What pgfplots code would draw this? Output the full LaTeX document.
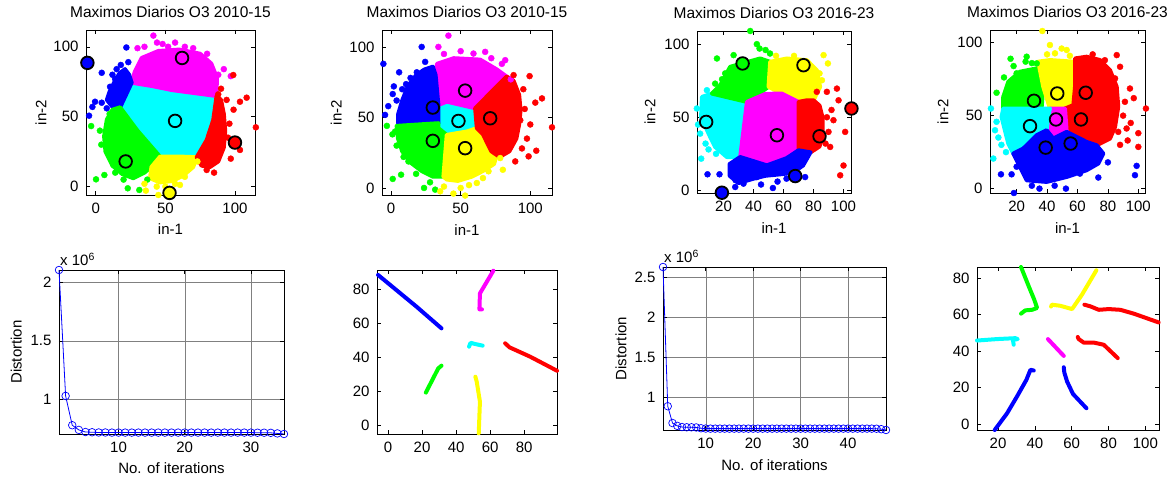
\documentclass[border=0pt]{standalone}
\usepackage{fontspec}
\setmainfont{Liberation Sans}
\usepackage{pgfplots}
\pgfplotsset{compat=1.18}
\definecolor{cC}{rgb}{0,1,1}
\definecolor{cM}{rgb}{1,0,1}
\definecolor{cY}{rgb}{1,1,0}
\definecolor{cG}{rgb}{0,1,0}
\definecolor{cB}{rgb}{0,0,1}
\definecolor{cR}{rgb}{1,0,0}
\newcommand{\labs}[4]{%
  \node[font=\fontsize{15}{18}\selectfont, anchor=center] at (axis description cs:0.5,#2) {#3};
  \node[font=\fontsize{15}{18}\selectfont, anchor=center, rotate=90] at (axis description cs:#1,0.5) {#4};}
\pgfplotsset{
 mbase/.style={scale only axis, anchor=north west,
   axis line style={line width=0.6pt},
   every tick/.style={black, line width=0.5pt},
   tick align=inside, major tick length=4pt,
   tick label style={font=\fontsize{15}{18}\selectfont},
   xticklabel style={yshift=-4.5pt},
   yticklabel style={xshift=-4pt},
   title style={font=\fontsize{15.5}{18}\selectfont, yshift=3pt},
   /pgf/number format/assume math mode=true,
   clip=false},
 reg/.style={draw=#1, fill=#1, line width=4pt, line join=round},
 dts/.style={only marks, mark=*, mark size=3pt, mark options={draw=#1, fill=#1}},
 cen/.style={only marks, mark=*, mark size=6.3pt, mark options={draw=black, fill=#1, line width=1.8pt}},
 trj/.style={draw=#1, line width=4pt, line cap=round, line join=round},
 dist/.style={grid=major, major grid style={black!50, line width=0.4pt}},
 dline/.style={cB, line width=0.8pt, mark=o, mark size=3.8pt, mark options={line width=0.7pt}},
}
\begin{document}
\begin{tikzpicture}
\path[use as bounding box] (0pt,0pt) rectangle (1172pt,-478pt);

% ---------------- P1 ----------------
\begin{axis}[mbase, at={(86pt,-30pt)}, width=169pt, height=165pt,
  xmin=-7, xmax=114.4, ymin=-6, ymax=112, xtick={0,50,100}, ytick={0,50,100},
  title={Maximos Diarios O3 2010-15}]
\addplot[reg=cC] coordinates {(25.8,74.3)(40,72)(55,69)(70,67)(86.8,64.8)(84.4,47.6)(79.7,33.3)(72.5,21)(60,21.5)(46.2,21.4)(30,40)(17.5,56.7)} -- cycle;
\addplot[reg=cM] coordinates {(25.8,74.3)(28,82)(33,92)(45,97)(60,98)(75,95)(83,88)(87,78)(86.8,64.8)(70,67)(55,69)(40,72)} -- cycle;
\addplot[dts=cM] coordinates {(41.4,108)(44,103)(35,100)(30,99)(52,100)(64,100)(70,99)(80,95)(77,86)(88,80)(92,84)(97,79)(57,103)(48,102)};
\addplot[reg=cB] coordinates {(25.8,74.3)(17.5,56.7)(12,57)(8,62)(10,68)(13,74)(17,81)(21,84)(24,80)} -- cycle;
\addplot[dts=cB] coordinates {(22,99.5)(23.4,89)(4.3,81.4)(-0.5,60.7)(-2.4,57)(-4.8,50.7)(4.3,60)(10.3,71.4)(7.9,56)(13.9,77)(12,80)(18,87)(15,84)};
\addplot[reg=cG] coordinates {(17.5,56.7)(30,40)(46.2,21.4)(42,16)(35,10)(27,6)(19,9)(12,15)(7,25)(6,36)(8,48)(12,55)} -- cycle;
\addplot[dts=cG] coordinates {(-3.3,43.3)(0.2,5.2)(6.2,8.3)(23,-1.2)(31.3,-2.4)(12.7,15.5)(4,30)(3,40)(10,52)(14,10)(20,5)(37,5)};
\addplot[reg=cY] coordinates {(46.2,21.4)(60,21.5)(72.5,21)(70,14)(63,8)(55,4)(46,3)(39,6)(40,14)} -- cycle;
\addplot[dts=cY] coordinates {(36,-2.9)(45,-6)(43.8,0)(60.5,1.2)(64,7)(68.9,16.7)(35,2)(50,0)(57,2)(73,18)};
\addplot[reg=cR] coordinates {(86.8,64.8)(84.4,47.6)(79.7,33.3)(72.5,21)(76,15)(82,14)(88,18)(92,28)(93,40)(92,52)(90,62)} -- cycle;
\addplot[dts=cR] coordinates {(115,42.4)(108.4,63.6)(103.6,60.7)(98.8,79.8)(103.6,26.2)(79.7,11.9)(94,62)(89,25)(96,45)(99,55)(95,35)(85,10)(90,70)(97,20)(101,30)(88,66)};
\addplot[cen=cB] coordinates {(-6,88.5)};
\addplot[cen=cM] coordinates {(62,92)};
\addplot[cen=cC] coordinates {(57,47)};
\addplot[cen=cR] coordinates {(100,31.5)};
\addplot[cen=cG] coordinates {(21.5,18)};
\addplot[cen=cY] coordinates {(53,-4.5)};
\labs{-0.266}{-0.206}{in-1}{in-2}
\end{axis}

% ---------------- P2 ----------------
\begin{axis}[mbase, at={(382pt,-30pt)}, width=170pt, height=165pt,
  xmin=-6.5, xmax=115.6, ymin=-5, ymax=112, xtick={0,50,100}, ytick={0,50,100},
  title={Maximos Diarios O3 2010-15}]
\addplot[reg=cC] coordinates {(34,58.8)(40,61.2)(60.4,56.5)(61.6,42.4)(54.4,40)(40,37.6)(34,42.4)} -- cycle;
\addplot[reg=cM] coordinates {(34,58.8)(40,61.2)(60.4,56.5)(83,79)(76,84)(64,91)(45,92)(33,88)(32,80)} -- cycle;
\addplot[dts=cM] coordinates {(41.2,108)(34,100)(59.2,95.3)(67.6,96.5)(79.6,88)(82,90.6)(50,97)(38,95)(72,92)(86,77)};
\addplot[reg=cB] coordinates {(34,58.8)(32,80)(30,86)(24,84)(18,80)(12,72)(8,62)(5,52)(5,46)(34,45.9)} -- cycle;
\addplot[dts=cB] coordinates {(-5.5,88)(22,100)(24.5,89.4)(5.8,82)(1.2,66.6)(-2,58)(-4.3,51.8)(4,62)(10.8,73.6)(18.5,82)(14,78)(2,72)(8,70)};
\addplot[reg=cG] coordinates {(34,45.9)(34,42.4)(40,37.6)(37.6,8)(30,8)(22,12)(14,18)(8,26)(5,35)(4,44)} -- cycle;
\addplot[dts=cG] coordinates {(-3,44)(1.2,6.4)(7.2,9.4)(23.7,0)(31.7,-1.2)(12.5,18.8)(2.9,40)(4,30)(9,22)(18,10)(28,4)(1,38)};
\addplot[reg=cY] coordinates {(40,37.6)(54.4,40)(61.6,42.4)(66,38)(72,30)(76,24)(74,17)(66,12)(58,8)(48,5)(40,6)(37.6,8)} -- cycle;
\addplot[dts=cY] coordinates {(35.3,-2.4)(44.8,-4)(53.2,-5.4)(61.6,3.5)(80.3,12.9)(78.4,21.2)(70,11.8)(38,1)(50,0)(66,7)(56,2)};
\addplot[reg=cR] coordinates {(60.4,56.5)(83,79)(88,76)(92,66)(93,55)(92,45)(90,35)(85,26)(78,22)(72,26)(66,38)(61.6,42.4)} -- cycle;
\addplot[dts=cR] coordinates {(99.5,79.3)(115.6,43)(108.4,63.5)(103.6,60.5)(104.3,26.4)(98.8,22.4)(89.2,18.8)(92.8,48)(97.6,35)(96,56)(100,45)(95,70)(88,80)(94,28)};
\addplot[cen=cB] coordinates {(30,57)};
\addplot[cen=cM] coordinates {(53.2,69)};
\addplot[cen=cC] coordinates {(48.4,47.5)};
\addplot[cen=cR] coordinates {(71.2,49.4)};
\addplot[cen=cG] coordinates {(30,33.4)};
\addplot[cen=cY] coordinates {(53.2,28.2)};
\labs{-0.27}{-0.212}{in-1}{in-2}
\end{axis}

% ---------------- P3 ----------------
\begin{axis}[mbase, at={(697pt,-31pt)}, width=154pt, height=162pt,
  xmin=2.3, xmax=105, ymin=-1.8, ymax=109, xtick={20,40,60,80,100}, ytick={0,50,100},
  title={Maximos Diarios O3 2016-23}]
\addplot[reg=cC] coordinates {(12.2,66.2)(35.6,60.5)(33.3,41.1)(31.1,22.8)(22.2,22.8)(14.4,29.7)(11.1,36.5)(5,50)(5.6,63.9)} -- cycle;
\addplot[dts=cC] coordinates {(2.2,56)(5.1,21.7)(8.9,68.5)(4.4,38.8)(3,45)(8,32)(10,28)(15,25)};
\addplot[reg=cG] coordinates {(17.8,71.9)(24.4,84.5)(44.4,90.2)(51.1,87.9)(50,70.8)(35.6,60.5)(12.2,66.2)} -- cycle;
\addplot[dts=cG] coordinates {(37.8,109)(42.2,100)(51,93.6)(15.6,90.2)(21.1,80)(14.4,73)(26.7,92.5)(44,97)(48,96)(19,76)};
\addplot[reg=cY] coordinates {(51.1,87.9)(62.2,90.2)(75.6,89)(82.2,82.2)(84.4,70.8)(80,61.6)(70,60.5)(58.9,66.2)(50,70.8)} -- cycle;
\addplot[dts=cY] coordinates {(86.7,92.5)(89.6,86.8)(85.6,75.3)(84,80)(55,92)(67,92)};
\addplot[reg=cM] coordinates {(35.6,60.5)(48,66)(58.9,66.2)(70,60.5)(70,27.4)(62,22)(48.9,17.1)(31.1,22.8)(33.3,41.1)} -- cycle;
\addplot[reg=cR] coordinates {(70,60.5)(75,61.5)(80,61.6)(84,58)(86,50)(86,38)(84,30)(78,26)(70,27.4)} -- cycle;
\addplot[dts=cR] coordinates {(95.6,69.6)(96.7,61.6)(93.3,48)(88.9,50)(101.1,40)(100,17)(97.8,10.3)(91.1,29.7)(82.2,67.4)(88.9,67.4)(90,40)(88,32)(92,55)};
\addplot[reg=cB] coordinates {(31.1,22.8)(48.9,17.1)(62,22)(70,27.4)(78,26)(73,17)(66,12)(58,11)(48,10)(40,8)(30,5)(24,10)(24,18)} -- cycle;
\addplot[dts=cB] coordinates {(9.3,11)(17.3,11)(27.8,2.3)(52.9,1.6)(74.4,9.1)(42.2,9.1)(33.3,4.6)(28,7)(56,6)(62,8)(45,4)};
\addplot[cen=cG] coordinates {(32.7,86.8)};
\addplot[cen=cY] coordinates {(73.3,85.6)};
\addplot[cen=cC] coordinates {(8.4,46.8)};
\addplot[cen=cM] coordinates {(55.6,37.7)};
\addplot[cen=cR] coordinates {(84,37)};
\addplot[cen=cR] coordinates {(105.3,56)};
\addplot[cen=cB] coordinates {(67.8,9.8)};
\addplot[cen=cB] coordinates {(18.9,-1.6)};
\labs{-0.305}{-0.218}{in-1}{in-2}
\end{axis}

% ---------------- P4 ----------------
\begin{axis}[mbase, at={(990pt,-30pt)}, width=155pt, height=163pt,
  xmin=2.5, xmax=104.4, ymin=-3, ymax=108.7, xtick={20,40,60,80,100}, ytick={0,50,100},
  title={Maximos Diarios O3 2016-23}]
\addplot[reg=cG] coordinates {(11.2,62.9)(14.5,73.2)(22.2,80.1)(33.2,82.4)(37.5,69.8)(36.4,54.9)(22.2,54.9)(11.2,54.9)} -- cycle;
\addplot[dts=cG] coordinates {(16,89)(26.6,90.4)(25.9,87)(33.2,85.8)(6.8,65.7)(11.7,76.2)(20,79)(18,84)(30,86)};
\addplot[reg=cY] coordinates {(34.2,87)(41.9,88.1)(57.3,87)(58.4,69.8)(57.3,57.2)(51.8,54.9)(41.9,54.9)(37.5,69.8)} -- cycle;
\addplot[dts=cY] coordinates {(36.9,108)(41.9,98.4)(49.6,96)(45.2,92.7)(52.9,95)(40,92)(55,91)};
\addplot[reg=cR] coordinates {(58.4,89.2)(66,90.4)(74.8,88.1)(81.4,81.2)(85.8,69.8)(86.8,56.1)(84.7,42.3)(81.4,34.3)(72.6,29.7)(66,32)(52.9,38.9)(51.8,54.9)(57.3,57.2)(58.4,69.8)} -- cycle;
\addplot[dts=cR] coordinates {(105,54.9)(100,28.6)(86.8,38.9)(92.3,41.2)(94.5,68.6)(91.2,59.5)(85.8,91.5)(88,83.5)(84.7,75.5)(95,45)(90,50)(88,30)(93,33)(78,88)(70,92)(97,62)(100,38)};
\addplot[reg=cM] coordinates {(41.9,54.9)(51.8,54.9)(52.9,38.9)(44.1,34.3)(39.7,40)(40.8,49.2)} -- cycle;
\addplot[reg=cC] coordinates {(11.2,54.9)(36.4,54.9)(41.9,54.9)(40.8,49.2)(39.7,40)(33.2,36.6)(24.4,27.5)(17.8,24)(14.5,30.9)(12.3,40)(10.1,49.2)} -- cycle;
\addplot[dts=cC] coordinates {(3.1,54.9)(4.7,20.6)(5.8,40)(6.8,45.8)(8,35)(10,30)(13,25)};
\addplot[reg=cB] coordinates {(17.8,24)(24.4,27.5)(33.2,36.6)(39.7,40)(44.1,34.3)(52.9,38.9)(66,32)(72.6,29.7)(77,24)(73.7,17.2)(66,12.6)(52.9,8)(39.7,4.6)(26.6,5.7)(22.2,14.9)} -- cycle;
\addplot[dts=cB] coordinates {(9.7,9.8)(16.7,9.8)(18.2,-3)(52.4,0)(97.8,9.2)(98.9,15.6)(73.7,7.6)(61.6,10.3)(30,2)(45,2)(80,18)(20,15)(35,0)};
\addplot[cen=cG] coordinates {(31.4,60.2)};
\addplot[cen=cY] coordinates {(46.7,65.2)};
\addplot[cen=cR] coordinates {(65.4,65.7)};
\addplot[cen=cC] coordinates {(28.8,42.8)};
\addplot[cen=cM] coordinates {(45.9,47.4)};
\addplot[cen=cR] coordinates {(62.3,47.4)};
\addplot[cen=cB] coordinates {(39.1,28.1)};
\addplot[cen=cB] coordinates {(55.5,30.9)};
\labs{-0.303}{-0.215}{in-1}{in-2}
\end{axis}

% ---------------- P5 ----------------
\begin{axis}[mbase, dist, at={(59pt,-270pt)}, width=225pt, height=164pt,
  xmin=1, xmax=35, ymin=0.705, ymax=2.105, xtick={10,20,30}, ytick={1,1.5,2}]
\addplot[dline] coordinates {(1,2.105)(2,1.03)(3,0.78)(4,0.74)(5,0.722)(6,0.72)(7,0.718)(8,0.718)(9,0.717)(10,0.717)(11,0.717)(12,0.717)(13,0.717)(14,0.717)(15,0.717)(16,0.717)(17,0.717)(18,0.717)(19,0.717)(20,0.717)(21,0.717)(22,0.717)(23,0.717)(24,0.717)(25,0.717)(26,0.717)(27,0.717)(28,0.717)(29,0.717)(30,0.717)(31,0.716)(32,0.716)(33,0.715)(34,0.71)(35,0.705)};
\node[anchor=south west, font=\fontsize{15}{18}\selectfont, inner sep=1pt, yshift=3pt] at (rel axis cs:0,1) {x 10\textsuperscript{6}};
\labs{-0.19}{-0.207}{No. of iterations}{Distortion}
\end{axis}

% ---------------- P6 ----------------
\begin{axis}[mbase, at={(377pt,-270pt)}, width=180pt, height=164pt,
  xmin=-6.5, xmax=99.3, ymin=-5.3, ymax=91.4, xtick={0,20,40,60,80}, ytick={0,20,40,60,80}]
\addplot[trj=cB] coordinates {(-5.9,88.5)(16.7,69.8)(31.4,57)};
\addplot[trj=cM] coordinates {(61.9,91)(54,77.6)(53.7,68.2)(55.2,68.2)};
\addplot[trj=cC] coordinates {(47.6,46.2)(48.5,48.5)(51,47.8)(55.6,46.8)};
\addplot[trj=cR] coordinates {(68.8,48.2)(71.4,45.8)(83.5,40.3)(99.3,32)};
\addplot[trj=cG] coordinates {(22.2,19.1)(29.5,33.4)(31.4,35)};
\addplot[trj=cY] coordinates {(51.3,28.5)(52.1,25.6)(54,13.8)(53.3,-4.9)};
\end{axis}

% ---------------- P7 ----------------
\begin{axis}[mbase, dist, at={(663pt,-267pt)}, width=223pt, height=163pt,
  xmin=1, xmax=48, ymin=0.588, ymax=2.625, xtick={10,20,30,40}, ytick={1,1.5,2,2.5}]
\addplot[dline] coordinates {(1,2.625)(2,0.885)(3,0.675)(4,0.64)(5,0.625)(6,0.622)(7,0.622)(8,0.62)(9,0.61)(10,0.606)(11,0.605)(12,0.605)(13,0.605)(14,0.605)(15,0.605)(16,0.605)(17,0.605)(18,0.605)(19,0.605)(20,0.605)(21,0.605)(22,0.605)(23,0.605)(24,0.605)(25,0.605)(26,0.605)(27,0.605)(28,0.605)(29,0.605)(30,0.605)(31,0.605)(32,0.605)(33,0.605)(34,0.605)(35,0.605)(36,0.605)(37,0.605)(38,0.605)(39,0.605)(40,0.605)(41,0.605)(42,0.605)(43,0.605)(44,0.605)(45,0.605)(46,0.604)(47,0.598)(48,0.588)};
\node[anchor=south west, font=\fontsize{15}{18}\selectfont, inner sep=1pt, yshift=3pt] at (rel axis cs:0,1) {x 10\textsuperscript{6}};
\labs{-0.188}{-0.215}{No. of iterations}{Distortion}
\end{axis}

% ---------------- P8 ----------------
\begin{axis}[mbase, at={(977pt,-267pt)}, width=182pt, height=163pt,
  xmin=8.6, xmax=107.4, ymin=-3.1, ymax=86, xtick={20,40,60,80,100}, ytick={0,20,40,60,80}]
\addplot[trj=cG] coordinates {(32.5,86)(36.7,75.4)(39.7,68.1)(41.2,63.6)(38.5,62.6)(34.8,62.3)(32.5,60.5)};
\addplot[trj=cY] coordinates {(73.4,84.2)(65.6,70.9)(60.2,63)(53.8,64.8)(49.3,65.4)(48.8,64.4)};
\addplot[trj=cR] coordinates {(107.2,55.7)(93.7,60.5)(86.4,62.6)(80.1,63)(74.7,62.6)(70.1,64.5)(66.9,65.4)};
\addplot[trj=cR] coordinates {(85,36.2)(77.4,43.5)(71.9,44.7)(66.5,44.7)(63.8,46.6)(63.3,47.7)};
\addplot[trj=cC] coordinates {(8.6,45.8)(19.5,46.6)(29.4,47.1)(30.7,46.6)(28.1,46.2)(28.5,43.5)};
\addplot[trj=cM] coordinates {(55.7,37.4)(47.1,46.6)};
\addplot[trj=cB] coordinates {(18.2,-3.1)(24.9,6)(30.3,15.2)(35.4,24.3)(37.6,29.8)(39.4,29.4)};
\addplot[trj=cB] coordinates {(68,8.8)(60.7,16.6)(57.5,23.4)(56,28.3)(55.7,31.2)};
\end{axis}
\end{tikzpicture}
\end{document}
